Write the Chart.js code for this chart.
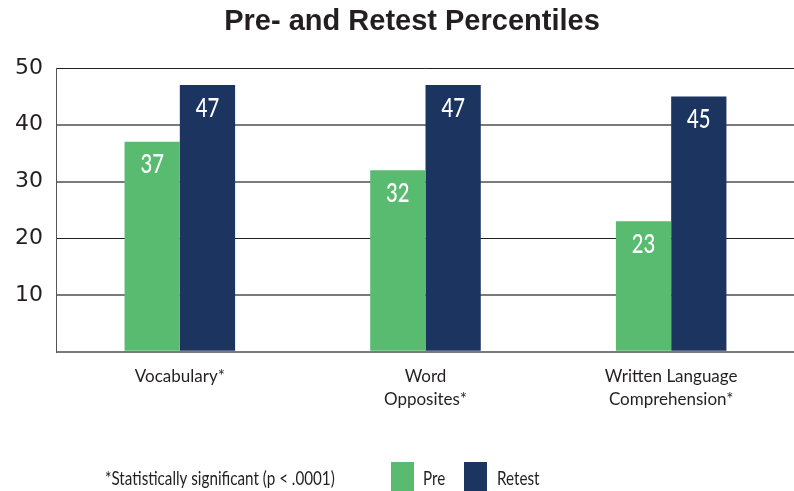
<!DOCTYPE html>
<html lang="en">
<head>
  <meta charset="UTF-8" />
  <title>Pre- and Retest Percentiles</title>
  <script src="https://cdn.jsdelivr.net/npm/chart.js"></script>
  <style>
    html, body { margin: 0; padding: 0; background: #fff; }
    #wrap { width: 794px; height: 491px; }
  </style>
</head>
<body>
  <div id="wrap"><canvas id="chart"></canvas></div>

  <script>
    const categories = [["Vocabulary*"], ["Word", "Opposites*"], ["Written Language", "Comprehension*"]];
    const preScores = [37, 32, 23];
    const retestScores = [47, 47, 45];
    const yTicks = [10, 20, 30, 40, 50];
    const chartTitle = "Pre- and Retest Percentiles";
    const footnote = "*Statistically significant (p < .0001)";

    const GREEN = "#58bb70";
    const NAVY = "#1c3560";
    const INK = "#231f20";
    const LABEL_FONT = "Lato, 'Open Sans', sans-serif";

    // squeeze text horizontally so it reads like a condensed face
    function narrowText(ctx, text, x, y, squeeze) {
      ctx.save();
      ctx.translate(x, y);
      ctx.scale(squeeze, 1);
      ctx.fillText(text, 0, 0);
      ctx.restore();
    }

    // title, value labels inside the bars, footnote and legend
    const decorations = {
      id: "decorations",
      afterDatasetsDraw(chart) {
        const ctx = chart.ctx;
        ctx.save();
        ctx.fillStyle = "#fff";
        ctx.font = "500 27px " + LABEL_FONT;
        ctx.textAlign = "center";
        ctx.textBaseline = "middle";
        chart.data.datasets.forEach((ds, i) => {
          chart.getDatasetMeta(i).data.forEach((bar, j) => {
            narrowText(ctx, String(ds.data[j]), bar.x, bar.y + 23, 0.75);
          });
        });
        ctx.restore();
      },
      afterDraw(chart) {
        const ctx = chart.ctx;
        ctx.save();
        ctx.fillStyle = INK;
        ctx.textBaseline = "alphabetic";
        ctx.textAlign = "center";
        ctx.font = "bold 29px 'Liberation Sans', Arial, sans-serif";
        ctx.fillText(chartTitle, 412, 30);

        ctx.textAlign = "left";
        ctx.font = "20px " + LABEL_FONT;
        narrowText(ctx, footnote, 105, 485, 0.76);

        // legend
        const xs = [[391, 423], [464, 497]];
        chart.data.datasets.forEach((ds, i) => {
          ctx.fillStyle = ds.backgroundColor;
          ctx.fillRect(xs[i][0], 462, 23, 30);
          ctx.fillStyle = INK;
          narrowText(ctx, ds.label, xs[i][1], 485, 0.76);
        });
        ctx.restore();
      }
    };

    new Chart(document.getElementById("chart"), {
      type: "bar",
      data: {
        labels: categories,
        datasets: [
          { label: "Pre", data: preScores, backgroundColor: GREEN },
          { label: "Retest", data: retestScores, backgroundColor: NAVY }
        ]
      },
      options: {
        responsive: true,
        maintainAspectRatio: false,
        animation: false,
        layout: { padding: { top: 68, left: 1, right: 0, bottom: 67 } },
        datasets: {
          bar: { categoryPercentage: 0.45, barPercentage: 1.0 }
        },
        plugins: {
          legend: { display: false },
          title: { display: false },
          tooltip: { enabled: false }
        },
        scales: {
          x: {
            grid: { display: false, drawTicks: false },
            border: { display: true, color: "#7a7a7a", width: 2 },
            ticks: {
              color: INK,
              padding: 13,
              maxRotation: 0,
              font: { family: LABEL_FONT, size: 17, lineHeight: 1.36 }
            }
          },
          y: {
            min: 0,
            max: 50,
            afterBuildTicks(scale) {
              scale.ticks = [0].concat(yTicks).map(v => ({ value: v }));
            },
            grid: {
              drawTicks: false,
              color: ctx => (ctx.tick && (ctx.tick.value === 50 || ctx.tick.value === 20)) ? INK : "#7a7a7a",
              lineWidth: ctx => (ctx.tick && (ctx.tick.value === 50 || ctx.tick.value === 20)) ? 1 : 2
            },
            border: { display: true, color: "#555", width: 1 },
            ticks: {
              color: INK,
              padding: 14,
              font: { family: "'DejaVu Sans', sans-serif", size: 22 },
              callback: v => v === 0 ? "" : String(v)
            }
          }
        }
      },
      plugins: [decorations]
    });
  </script>
</body>
</html>
